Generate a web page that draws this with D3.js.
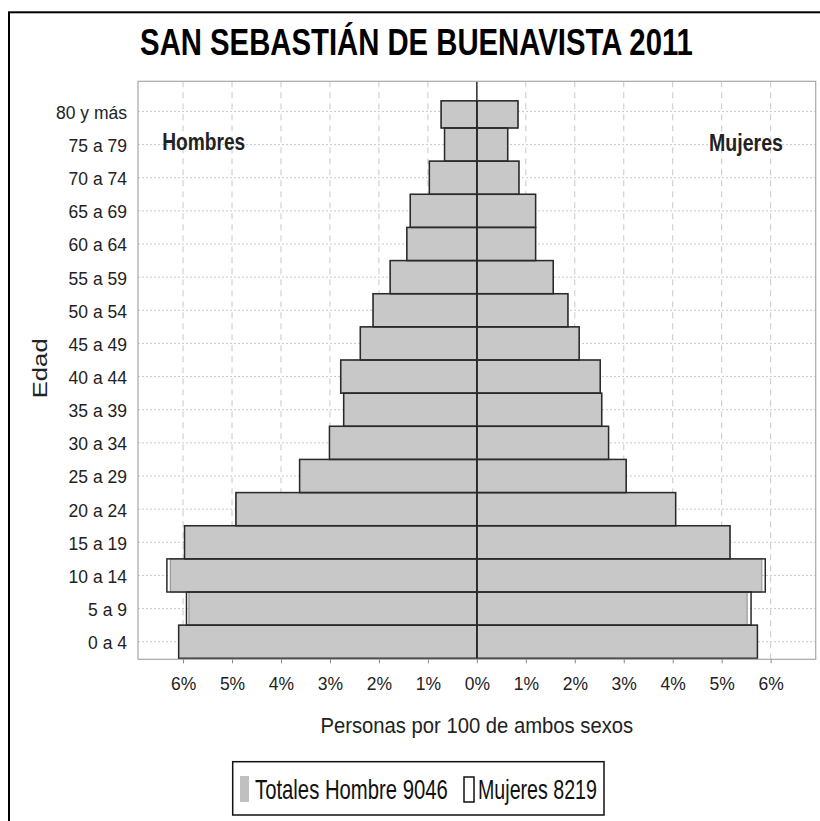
<!DOCTYPE html>
<html><head><meta charset="utf-8">
<script src="https://cdn.jsdelivr.net/npm/d3@7"></script>
<style>body{margin:0;background:#fff}svg{display:block}</style>
</head><body>
<svg id="c" width="820" height="821"></svg>
<script>
// ---- data ----
const ageGroups = ["0 a 4","5 a 9","10 a 14","15 a 19","20 a 24","25 a 29","30 a 34","35 a 39","40 a 44","45 a 49","50 a 54","55 a 59","60 a 64","65 a 69","70 a 74","75 a 79","80 y más"];
const menFilled    = [6.09,5.88,6.26,5.97,4.92,3.62,3.01,2.72,2.78,2.38,2.12,1.77,1.43,1.36,0.97,0.66,0.73];
const menOutline   = [6.09,5.93,6.33,5.97,4.92,3.62,3.01,2.72,2.78,2.38,2.12,1.77,1.43,1.36,0.97,0.66,0.73];
const womenFilled  = [5.73,5.52,5.82,5.17,4.06,3.05,2.69,2.55,2.52,2.09,1.86,1.56,1.20,1.20,0.86,0.63,0.84];
const womenOutline = [5.73,5.60,5.89,5.17,4.06,3.05,2.69,2.55,2.52,2.09,1.86,1.56,1.20,1.20,0.86,0.63,0.84];
const xTicks = [-6,-5,-4,-3,-2,-1,0,1,2,3,4,5,6];
const titleText = "SAN SEBASTIÁN DE BUENAVISTA 2011";
const leftLabel = "Hombres", rightLabel = "Mujeres";
const xTitle = "Personas por 100 de ambos sexos";
const yTitle = "Edad";
const legendLabels = ["Totales Hombre 9046", "Mujeres 8219"];

// ---- layout ----
const svg = d3.select("#c");
const P = {x0:138, x1:815.7, y0:81.3, y1:659.3};
const REG = "'Liberation Sans',Arial,sans-serif";

const x = d3.scaleLinear().domain([-6.92, 6.92]).range([P.x0, P.x1]);
const y = d3.scaleBand().domain(ageGroups.slice().reverse()).range([94.85, 658.3]).paddingInner(0).paddingOuter(0);
const bw = y.bandwidth();
const topLimit = y.range()[0] + bw * 0.18;

// helper: text squeezed horizontally to a target width
function squeezed(parent, str, tx, ty, size, weight, targetW, anchor){
  const t = parent.append("text").attr("font-family",REG).attr("font-size",size)
    .attr("font-weight",weight).attr("fill","#111").attr("text-anchor",anchor||"start").text(str);
  const w = t.node().getComputedTextLength();
  const s = targetW / w;
  t.attr("transform",`translate(${tx},${ty}) scale(${s},1)`);
  return t;
}

// outer frame
svg.append("rect").attr("x",9).attr("y",12.3).attr("width",900).attr("height",900)
  .attr("fill","none").attr("stroke","#000").attr("stroke-width",2);

// title
squeezed(svg, titleText, 416.5, 54.5, 37, "bold", 553, "middle").attr("fill","#000");

// plot background
svg.append("rect").attr("x",P.x0).attr("y",P.y0).attr("width",P.x1-P.x0).attr("height",P.y1-P.y0).attr("fill","#fff");

// grid
const g = svg.append("g");
g.selectAll("line.vg").data(xTicks.filter(t=>t!==0)).join("line")
  .attr("x1",d=>x(d)).attr("x2",d=>x(d)).attr("y1",P.y0).attr("y2",P.y1)
  .attr("stroke","#c8c8c8").attr("stroke-width",1).attr("stroke-dasharray","6,5");
g.selectAll("line.hg").data(ageGroups).join("line")
  .attr("x1",P.x0).attr("x2",P.x1).attr("y1",d=>y(d)+bw/2).attr("y2",d=>y(d)+bw/2)
  .attr("stroke","#c8c8c8").attr("stroke-width",1).attr("stroke-dasharray","2,2");

// bars
function barTop(d){ return Math.max(y(d), topLimit); }
function barH(d){ return y(d)+bw - barTop(d); }
const bars = svg.append("g");
const rows = ageGroups.map((a,i)=>({a, mf:menFilled[i], mo:menOutline[i], wf:womenFilled[i], wo:womenOutline[i]}));
bars.selectAll("rect.mf").data(rows).join("rect")
  .attr("x",d=>x(-d.mf)).attr("width",d=>x(0)-x(-d.mf)).attr("y",d=>barTop(d.a)).attr("height",d=>barH(d.a))
  .attr("fill","#c8c8c8").attr("stroke","#8c8c8c").attr("stroke-width",1);
bars.selectAll("rect.wf").data(rows).join("rect")
  .attr("x",x(0)).attr("width",d=>x(d.wf)-x(0)).attr("y",d=>barTop(d.a)).attr("height",d=>barH(d.a))
  .attr("fill","#c8c8c8").attr("stroke","#8c8c8c").attr("stroke-width",1);
bars.selectAll("rect.mo").data(rows).join("rect")
  .attr("x",d=>x(-d.mo)).attr("width",d=>x(0)-x(-d.mo)).attr("y",d=>barTop(d.a)).attr("height",d=>barH(d.a))
  .attr("fill","none").attr("stroke","#2a2a2a").attr("stroke-width",1.5);
bars.selectAll("rect.wo").data(rows).join("rect")
  .attr("x",x(0)).attr("width",d=>x(d.wo)-x(0)).attr("y",d=>barTop(d.a)).attr("height",d=>barH(d.a))
  .attr("fill","none").attr("stroke","#2a2a2a").attr("stroke-width",1.5);

// center line
svg.append("line").attr("x1",x(0)).attr("x2",x(0)).attr("y1",P.y0).attr("y2",P.y1)
  .attr("stroke","#2a2a2a").attr("stroke-width",1.5);

// plot border
svg.append("rect").attr("x",P.x0).attr("y",P.y0).attr("width",P.x1-P.x0).attr("height",P.y1-P.y0)
  .attr("fill","none").attr("stroke","#a8a8a8").attr("stroke-width",1.2);

// x axis
const xAxis = d3.axisBottom(x).tickValues(xTicks).tickSize(4).tickPadding(6)
  .tickFormat(d=>Math.abs(d)+"%");
const xg = svg.append("g").attr("transform",`translate(0,${P.y1})`).call(xAxis);
xg.select(".domain").remove();
xg.selectAll(".tick line").attr("stroke","#888");
xg.selectAll(".tick text").attr("font-family",REG).attr("font-size",17.5).attr("fill","#222")
  .attr("y",null).attr("dy",null).attr("transform","translate(0,31)");

// y axis
const yAxis = d3.axisLeft(y).tickSize(0).tickPadding(11);
const yg = svg.append("g").attr("transform",`translate(${P.x0},0)`).call(yAxis);
yg.select(".domain").remove();
yg.selectAll(".tick text").attr("font-family",REG).attr("font-size",17.5).attr("fill","#222")
  .attr("dy","0.42em");

// side labels
squeezed(svg, leftLabel, 162.3, 150, 24, "bold", 83).attr("fill","#222");
squeezed(svg, rightLabel, 709, 150.5, 24, "bold", 74).attr("fill","#222");

// axis titles
squeezed(svg, xTitle, (P.x0+P.x1)/2, 733, 22.5, "normal", 313, "middle").attr("fill","#222");
const yt = svg.append("g").attr("transform","translate(46.5,368.3) rotate(-90)");
squeezed(yt, yTitle, 0, 0, 21, "normal", 60, "middle").attr("fill","#222");

// legend
const lg = svg.append("g");
lg.append("rect").attr("x",232.7).attr("y",761.7).attr("width",371.3).attr("height",53.3)
  .attr("fill","#fff").attr("stroke","#111").attr("stroke-width",1.5);
lg.append("rect").attr("x",240).attr("y",776).attr("width",9).attr("height",26).attr("fill","#c0c0c0");
squeezed(lg, legendLabels[0], 255, 798.5, 28, "normal", 193);
lg.append("rect").attr("x",464).attr("y",777).attr("width",10).attr("height",25)
  .attr("fill","none").attr("stroke","#111").attr("stroke-width",1.5);
squeezed(lg, legendLabels[1], 478, 798.5, 28, "normal", 119);
</script>
</body></html>
